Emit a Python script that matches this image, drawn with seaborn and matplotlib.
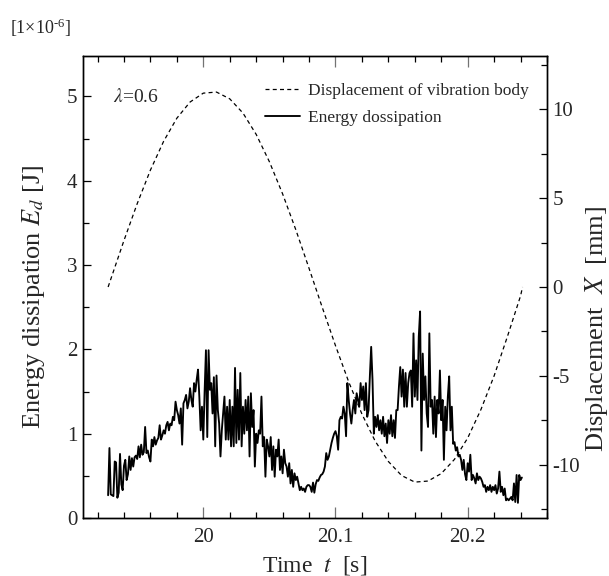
import numpy as np
import pandas as pd
import matplotlib
matplotlib.use("Agg")
import matplotlib.pyplot as plt
from matplotlib.ticker import MultipleLocator
import seaborn as sns

# ---------------- data ----------------
t_energy_start = 19.928
t_energy_step = 0.001
energy = [
    0.27, 0.83, 0.28, 0.27, 0.26, 0.67, 0.66, 0.24, 0.30, 0.76,
    0.40, 0.33, 0.62, 0.69, 0.45, 0.52, 0.73, 0.57, 0.71, 0.61,
    0.72, 0.74, 0.70, 0.85, 0.72, 0.87, 0.75, 0.78, 1.08, 0.77,
    0.80, 0.72, 0.67, 0.93, 0.85, 0.96, 0.87, 0.92, 0.95, 1.10,
    0.93, 0.98, 1.04, 1.00, 1.10, 1.14, 1.04, 1.12, 1.10, 1.20,
    1.16, 1.38, 1.28, 1.22, 1.12, 1.30, 0.87, 1.36, 1.40, 1.46,
    1.30, 1.38, 1.54, 1.40, 1.32, 1.60, 1.50, 1.64, 1.76, 1.44,
    1.04, 1.32, 0.93, 1.50, 1.99, 0.96, 1.99, 1.52, 1.60, 1.24,
    1.67, 0.85, 1.69, 1.28, 1.12, 0.73, 1.04, 1.24, 1.44, 0.93,
    1.32, 0.93, 1.40, 0.85, 1.32, 0.85, 1.78, 0.89, 1.52, 0.93,
    1.72, 0.85, 1.32, 1.00, 1.40, 1.04, 1.44, 0.73, 1.48, 1.08,
    1.28, 0.61, 1.00, 0.89, 1.04, 1.00, 1.44, 0.85, 0.96, 0.49,
    0.93, 0.85, 0.73, 0.96, 0.57, 0.85, 0.49, 0.81, 0.73, 0.93,
    0.57, 0.73, 0.53, 0.81, 0.65, 0.61, 0.49, 0.65, 0.41, 0.57,
    0.37, 0.53, 0.45, 0.49, 0.41, 0.33, 0.37, 0.33, 0.35, 0.31,
    0.37, 0.39, 0.39, 0.37, 0.31, 0.42, 0.30, 0.40, 0.45, 0.44,
    0.48, 0.51, 0.52, 0.55, 0.61, 0.77, 0.69, 0.73, 0.81, 0.89,
    0.95, 1.00, 1.03, 0.97, 0.81, 1.16, 1.20, 1.18, 1.32, 1.24,
    0.97, 1.60, 1.40, 1.24, 1.12, 1.28, 1.40, 1.24, 1.48, 1.40,
    1.32, 1.60, 1.40, 1.56, 1.28, 1.60, 1.20, 1.28, 1.68, 2.03,
    1.64, 1.00, 1.20, 1.08, 1.22, 1.04, 1.16, 1.00, 1.20, 0.97,
    1.12, 0.89, 1.16, 1.00, 1.22, 0.97, 1.16, 0.95, 1.28, 1.28,
    1.56, 1.79, 1.44, 1.76, 1.32, 1.72, 1.32, 1.60, 1.72, 1.75,
    1.32, 2.19, 1.44, 1.87, 1.40, 2.15, 2.45, 0.80, 1.95, 1.40,
    1.68, 1.24, 1.08, 2.19, 1.32, 1.40, 1.00, 1.44, 0.96, 1.40,
    1.24, 1.75, 1.16, 1.40, 0.69, 1.32, 1.04, 1.44, 1.68, 1.04,
    1.32, 0.88, 0.90, 0.80, 0.84, 0.73, 0.75, 0.69, 0.57, 0.69,
    0.52, 0.45, 0.65, 0.55, 0.75, 0.45, 0.51, 0.47, 0.41, 0.53,
    0.45, 0.49, 0.47, 0.43, 0.37, 0.39, 0.31, 0.37, 0.33, 0.39,
    0.31, 0.37, 0.33, 0.39, 0.29, 0.35, 0.55, 0.31, 0.37, 0.27,
    0.35, 0.21, 0.23, 0.21, 0.23, 0.25, 0.21, 0.41, 0.19, 0.51,
    0.18, 0.51, 0.45, 0.48,
]

t_disp = [19.928, 19.94, 19.95, 19.96, 19.97, 19.98, 19.99, 20.00, 20.01,
          20.02, 20.03, 20.04, 20.05, 20.06, 20.07, 20.08, 20.09, 20.10,
          20.11, 20.12, 20.13, 20.14, 20.15, 20.16, 20.17, 20.18, 20.19,
          20.20, 20.21, 20.22, 20.23, 20.24, 20.2415]
disp = [0.0, 2.62, 4.69, 6.58, 8.20, 9.50, 10.41, 10.91, 10.97,
        10.59, 9.79, 8.59, 7.05, 5.24, 3.22, 1.05, -1.15, -3.30,
        -5.34, -7.15, -8.67, -9.82, -10.61, -10.98, -10.92, -10.50, -9.70,
        -8.50, -6.90, -5.00, -2.80, -0.50, 0.0]

xticks = [20.0, 20.1, 20.2]
xtick_labels = ["20", "20.1", "20.2"]
left_ticks = [0, 1, 2, 3, 4, 5]
right_ticks = [-10, -5, 0, 5, 10]

# ---------------- style ----------------
sns.set_theme(style="ticks")
plt.rcParams["font.family"] = ["Liberation Serif", "DejaVu Serif"]
plt.rcParams["mathtext.fontset"] = "stix"
plt.rcParams["axes.unicode_minus"] = False
plt.rcParams["axes.linewidth"] = 1.0
plt.rcParams["axes.edgecolor"] = "black"

t_energy = t_energy_start + t_energy_step * np.arange(len(energy))
df_e = pd.DataFrame({"t": t_energy, "E": energy})
df_d = pd.DataFrame({"t": t_disp, "X": disp})

fig = plt.figure(figsize=(6.09, 5.76), dpi=100)
ax = fig.add_axes([83 / 609, 1 - 518 / 576, 464 / 609, 462 / 576])
ax2 = ax.twinx()

sns.lineplot(data=df_e, x="t", y="E", ax=ax, color="black", lw=1.35,
             label="Energy dossipation", legend=False)
sns.lineplot(data=df_d, x="t", y="X", ax=ax2, color="black", lw=0.9,
             dashes=False, label="Displacement of vibration body", legend=False)
ax2.lines[0].set_dashes((3.2, 2.6))

ax.set_xlim(19.909, 20.26)
ax.set_ylim(0, 5.48)
ax2.set_ylim(-13, 13)

ax.set_xticks(xticks)
ax.set_xticklabels(xtick_labels)
ax.xaxis.set_minor_locator(MultipleLocator(0.02))
ax.set_yticks(left_ticks)
ax.yaxis.set_minor_locator(MultipleLocator(0.5))
ax2.set_yticks(right_ticks)
ax2.yaxis.set_minor_locator(MultipleLocator(2.5))

for a in (ax, ax2):
    a.tick_params(which="both", direction="in", labelsize=15, color="black")
    a.tick_params(which="major", length=6, width=0.9, pad=4)
    a.tick_params(which="minor", length=4, width=0.9)
ax.tick_params(axis="x", which="both", top=True)
ax.tick_params(axis="x", which="major", color="0.45", length=8, pad=7)
ax.tick_params(axis="y", which="both", right=False)
ax2.tick_params(axis="y", which="both", left=False)

ax.set_xlabel(r"Time  $t$  [s]", fontsize=17, labelpad=5)
ax.set_ylabel(r"Energy dissipation $E_d$ [J]", fontsize=19)
ax2.set_ylabel(r"Displacement  $X$  [mm]", fontsize=19)
ax.yaxis.set_label_coords(-0.078, 0.48)
ax2.yaxis.set_label_coords(1.077, 0.41)

ax.text(0.064, 0.911, r"$\lambda$=0.6", transform=ax.transAxes,
        fontsize=14, va="center", ha="left")
fig.text(10 / 609, 1 - 28 / 576, "[1×10$^{\\mathregular{\u20106}}$]",
         fontsize=13, va="center", ha="left")

h1, l1 = ax2.get_legend_handles_labels()
h0, l0 = ax.get_legend_handles_labels()
ax.legend(h1 + h0, l1 + l0, loc="upper left",
          bbox_to_anchor=((265 - 83) / 464, (518 - 83) / 462),
          frameon=False, fontsize=12.5, handlelength=2.0, handletextpad=0.45,
          borderpad=0, borderaxespad=0, labelspacing=0.6)

for s in ax.spines.values():
    s.set_linewidth(1.0)

fig.savefig("out.png", dpi=100)
